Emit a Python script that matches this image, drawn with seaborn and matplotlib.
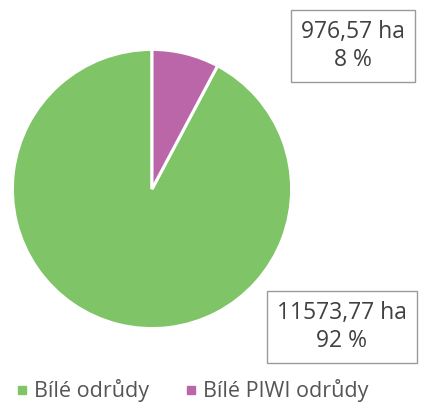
import matplotlib
matplotlib.use("Agg")
import matplotlib.pyplot as plt
from matplotlib.lines import Line2D
import seaborn as sns

categories = ["Bílé odrůdy", "Bílé PIWI odrůdy"]
areas = [11573.77, 976.57]
colors = ["#7fc466", "#bb66a9"]

sns.set_theme(style="white")
plt.rcParams['font.family'] = ['Open Sans', 'DejaVu Sans']

fig = plt.figure(figsize=(4.21, 4.13), dpi=100)
ax = fig.add_axes([11 / 421, 83 / 413, 282 / 421, 282 / 413])

wedges, _ = ax.pie(areas, colors=colors, startangle=90, counterclock=True,
                   wedgeprops=dict(edgecolor="white", linewidth=2.2))
ax.set_xlim(-1.01, 1.01)
ax.set_ylim(-1.01, 1.01)
ax.set_aspect("equal")

total = sum(areas)
labels = [f"{v:.2f}".replace(".", ",") + " ha\n" + f"{v / total * 100:.0f} %" for v in areas]
# label box positions (figure px from top-left)
pos = [(342, 327), (353, 46)]
for lab, (px, py) in zip(labels, pos):
    fig.text(px / 421, 1 - py / 413, lab, ha="center", va="center", fontsize=16.5,
             color="#404040", linespacing=1.25,
             bbox=dict(boxstyle="square,pad=0.42", fc="white", ec="#9a9a9a", lw=1))

handles = [Line2D([], [], marker="s", linestyle="", markersize=6, color=c) for c in colors]
fig.legend(handles, categories, loc="center", bbox_to_anchor=(0.455, 1 - 391 / 413),
           ncol=2, frameon=False, fontsize=15.5, handlelength=0.7, handletextpad=0.2,
           columnspacing=1.6, labelcolor="#555555")

fig.savefig("out.png", dpi=100)
